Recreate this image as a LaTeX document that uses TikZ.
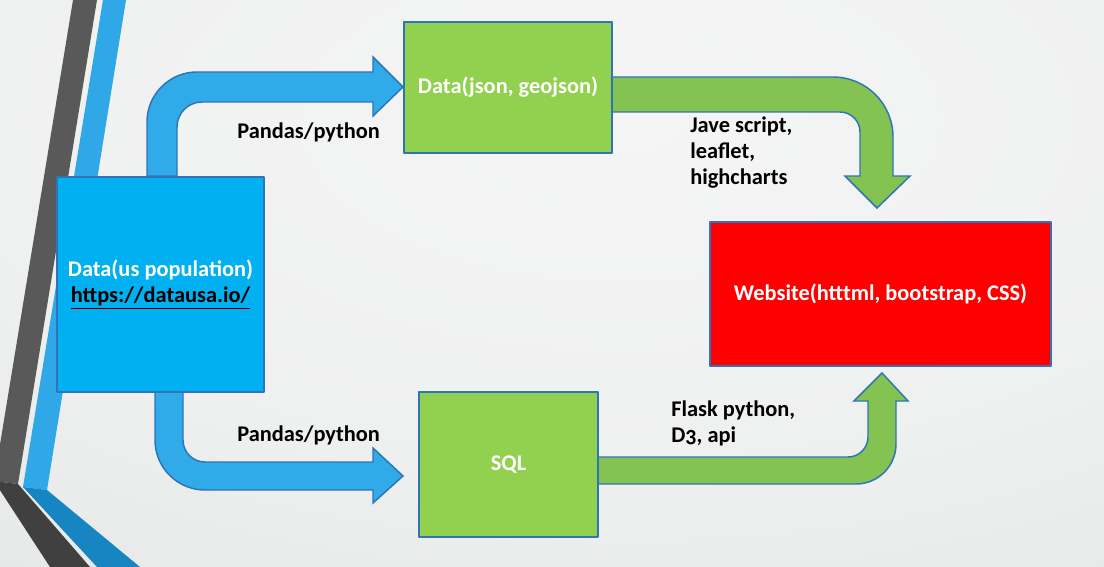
\documentclass[tikz,border=0pt]{standalone}
\usepackage{fontspec}
\setmainfont{Carlito}[Numbers=OldStyle]
\definecolor{bgA}{HTML}{F5F5F5}
\definecolor{bgB}{HTML}{EFF0F0}
\definecolor{bgC}{HTML}{E6E8E8}
\definecolor{bgD}{HTML}{D9DCDC}
\definecolor{bgE}{HTML}{C3C6C7}
\definecolor{stripedark}{HTML}{595959}
\definecolor{stripedeep}{HTML}{404040}
\definecolor{stripeblue}{HTML}{30A8E8}
\definecolor{stripesea}{HTML}{1685C2}
\definecolor{edgeblue}{HTML}{2E75B6}
\definecolor{skyblue}{HTML}{00B0F0}
\definecolor{arrowblue}{HTML}{30AAE9}
\definecolor{leafgreen}{HTML}{92D050}
\definecolor{arrowgreen}{HTML}{84C351}
\pgfdeclareradialshading{slidebg}{\pgfpointorigin}{color(0bp)=(bgA); color(17bp)=(bgB); color(30bp)=(bgC); color(40bp)=(bgD); color(50bp)=(bgE)}
\begin{document}
\begin{tikzpicture}[line cap=round,line join=round,x=0.75pt,y=-0.75pt,
	box/.style={draw=edgeblue,line width=1.1pt,inner sep=0pt,text=white,align=center,font=\bfseries\fontsize{16.8}{19.5}\selectfont},
	lbl/.style={inner sep=0pt,anchor=west,align=left,font=\bfseries\fontsize{16.8}{19.5}\selectfont},
	bent/.style={draw=edgeblue,line width=1.1pt,line cap=butt,line join=miter}]
	\useasboundingbox (0,0) rectangle (1104,567);
	\clip (0,0) rectangle (1104,567);
	\shade[shading=slidebg] (-330,-360) rectangle (1570,600);
	\fill[stripedark] (73,0) -- (97,0) -- (18,484) -- (-6,481) -- cycle;
	\fill[stripedeep] (-6,481) -- (18,484) -- (90,567) -- (50,567) -- cycle;
	\fill[stripeblue] (103,0) -- (126,0) -- (47,490) -- (23,487) -- cycle;
	\fill[stripesea] (23,487) -- (47,490) -- (140,567) -- (97,567) -- cycle;
	\draw [bent,fill=arrowblue] (147,176) -- (147,122) arc[start angle=180,end angle=90,radius=37.5pt] -- (373,72) -- (373,57) -- (403,87) -- (373,116) -- (373,102) -- (202,102) arc[start angle=90,end angle=180,radius=18.75pt] -- (177,176) -- cycle;
	\draw [bent,fill=arrowblue] (155,392) -- (155,440) arc[start angle=180,end angle=270,radius=37.5pt] -- (373,490) -- (373,503) -- (403,476) -- (373,448) -- (373,462) -- (205,462) arc[start angle=270,end angle=180,radius=16.5pt] -- (183,392) -- cycle;
	\draw [bent,fill=arrowgreen] (612,77) -- (833,77) arc[start angle=90,end angle=0,radius=45pt] -- (893,176) -- (910,176) -- (877,208) -- (845,176) -- (860,176) -- (860,132) arc[start angle=0,end angle=90,radius=15pt] -- (612,112) -- cycle;
	\draw [bent,fill=arrowgreen] (598,457) -- (848,457) arc[start angle=270,end angle=360,radius=15pt] -- (868,401) -- (854,401) -- (882,373) -- (908,401) -- (896,401) -- (896,444) arc[start angle=0,end angle=-90,radius=30pt] -- (598,484) -- cycle;
	\node[box,fill=skyblue,minimum width=155.25pt,minimum height=161.25pt] (usdata) at (160.5,284.5) {Data(us population)\\\textcolor{black}{\underline{https://datausa.io/}}};
	\node[box,fill=leafgreen,minimum width=156pt,minimum height=98.25pt] (geodata) at (508,87.5) {Data(json, geojson)};
	\node[box,fill=leafgreen,minimum width=134.25pt,minimum height=108.75pt] (sqldb) at (508.5,464.5) {SQL};
	\node[box,fill=red,minimum width=255.75pt,minimum height=108pt] (website) at (880.5,294) {Website(htttml, bootstrap, CSS)};
	\node[lbl] (pandastop) at (237,132) {Pandas/python};
	\node[lbl] (pandasbot) at (237,435) {Pandas/python};
	\node[lbl] (jslibs) at (690,153) {Jave script,\\leaflet,\\highcharts};
	\node[lbl] (flaskapi) at (671,423) {Flask python,\\D3, api};
\end{tikzpicture}
\end{document}
